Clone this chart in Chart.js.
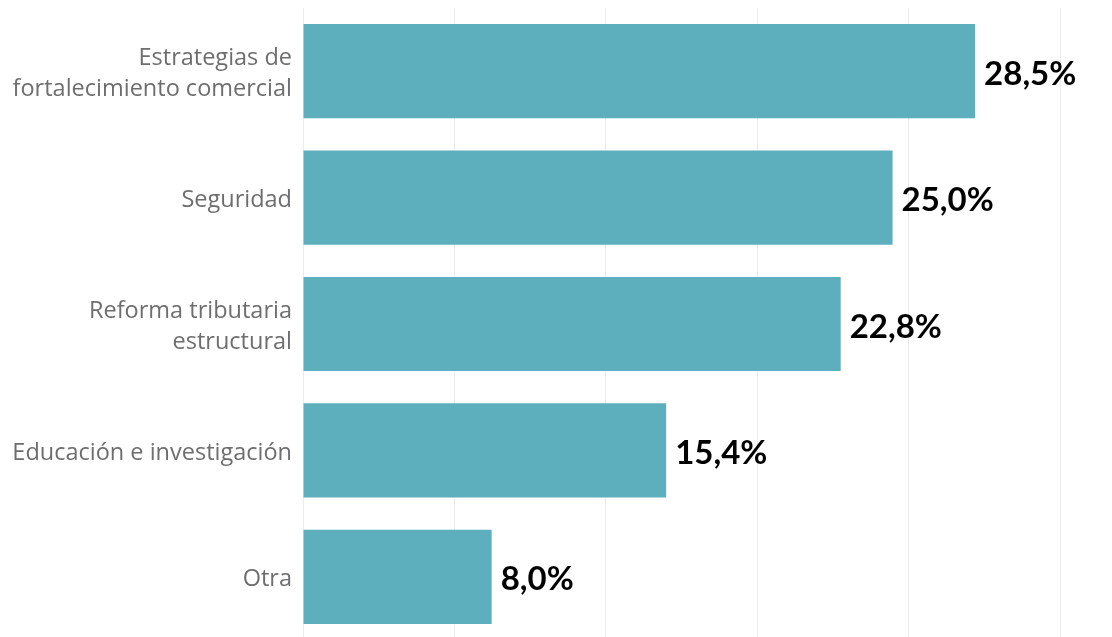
<!DOCTYPE html>
<html>
<head>
<meta charset="utf-8">
<script src="https://cdn.jsdelivr.net/npm/chart.js@4/dist/chart.umd.min.js"></script>
<style>
  html, body { margin: 0; padding: 0; background: #ffffff; overflow: hidden; }
  #wrap { position: relative; width: 1112px; height: 640px; }
</style>
</head>
<body>
<div id="wrap"><canvas id="c"></canvas></div>
<script>
const categories = [
  ["Estrategias de", "fortalecimiento comercial"],
  "Seguridad",
  ["Reforma tributaria", "estructural"],
  "Educación e investigación",
  "Otra"
];
const values = [28.5, 25.0, 22.8, 15.4, 8.0];
const valueLabels = ["28,5%", "25,0%", "22,8%", "15,4%", "8,0%"];
const axisMax = 32.1;
const axisStep = 6.42;

const valueLabelPlugin = {
  id: 'valueLabels',
  afterDatasetsDraw(chart) {
    const ctx = chart.ctx;
    const meta = chart.getDatasetMeta(0);
    ctx.save();
    ctx.font = 'bold 33px Lato, "Open Sans", sans-serif';
    ctx.fillStyle = '#000000';
    ctx.textAlign = 'left';
    ctx.textBaseline = 'middle';
    meta.data.forEach((bar, i) => {
      ctx.fillText(valueLabels[i], bar.x + 9, bar.y + 3);
    });
    ctx.restore();
  }
};

new Chart(document.getElementById('c'), {
  type: 'bar',
  data: {
    labels: categories,
    datasets: [{
      data: values,
      backgroundColor: '#5eafbe',
      borderWidth: 0,
      barPercentage: 0.745,
      categoryPercentage: 1.0
    }]
  },
  options: {
    indexAxis: 'y',
    responsive: true,
    maintainAspectRatio: false,
    animation: false,
    layout: { padding: { top: 8, right: 52, bottom: 0, left: 0 } },
    plugins: {
      legend: { display: false },
      tooltip: { enabled: false }
    },
    scales: {
      x: {
        min: 0,
        max: axisMax,
        ticks: { display: false, stepSize: axisStep },
        grid: { color: '#ebebeb', lineWidth: 1, drawTicks: false },
        border: { display: false },
        afterFit(s) { s.height = 0; s.paddingLeft = 0; s.paddingRight = 0; }
      },
      y: {
        ticks: {
          color: '#6e6e6e',
          font: { family: '"Open Sans", sans-serif', size: 23.5, lineHeight: 1.32 },
          padding: 11,
          labelOffset: 2.5
        },
        grid: { display: false, drawTicks: false },
        border: { display: false },
        afterFit(s) { s.width = 303; s.paddingTop = 0; s.paddingBottom = 0; }
      }
    }
  },
  plugins: [valueLabelPlugin]
});
</script>
</body>
</html>
